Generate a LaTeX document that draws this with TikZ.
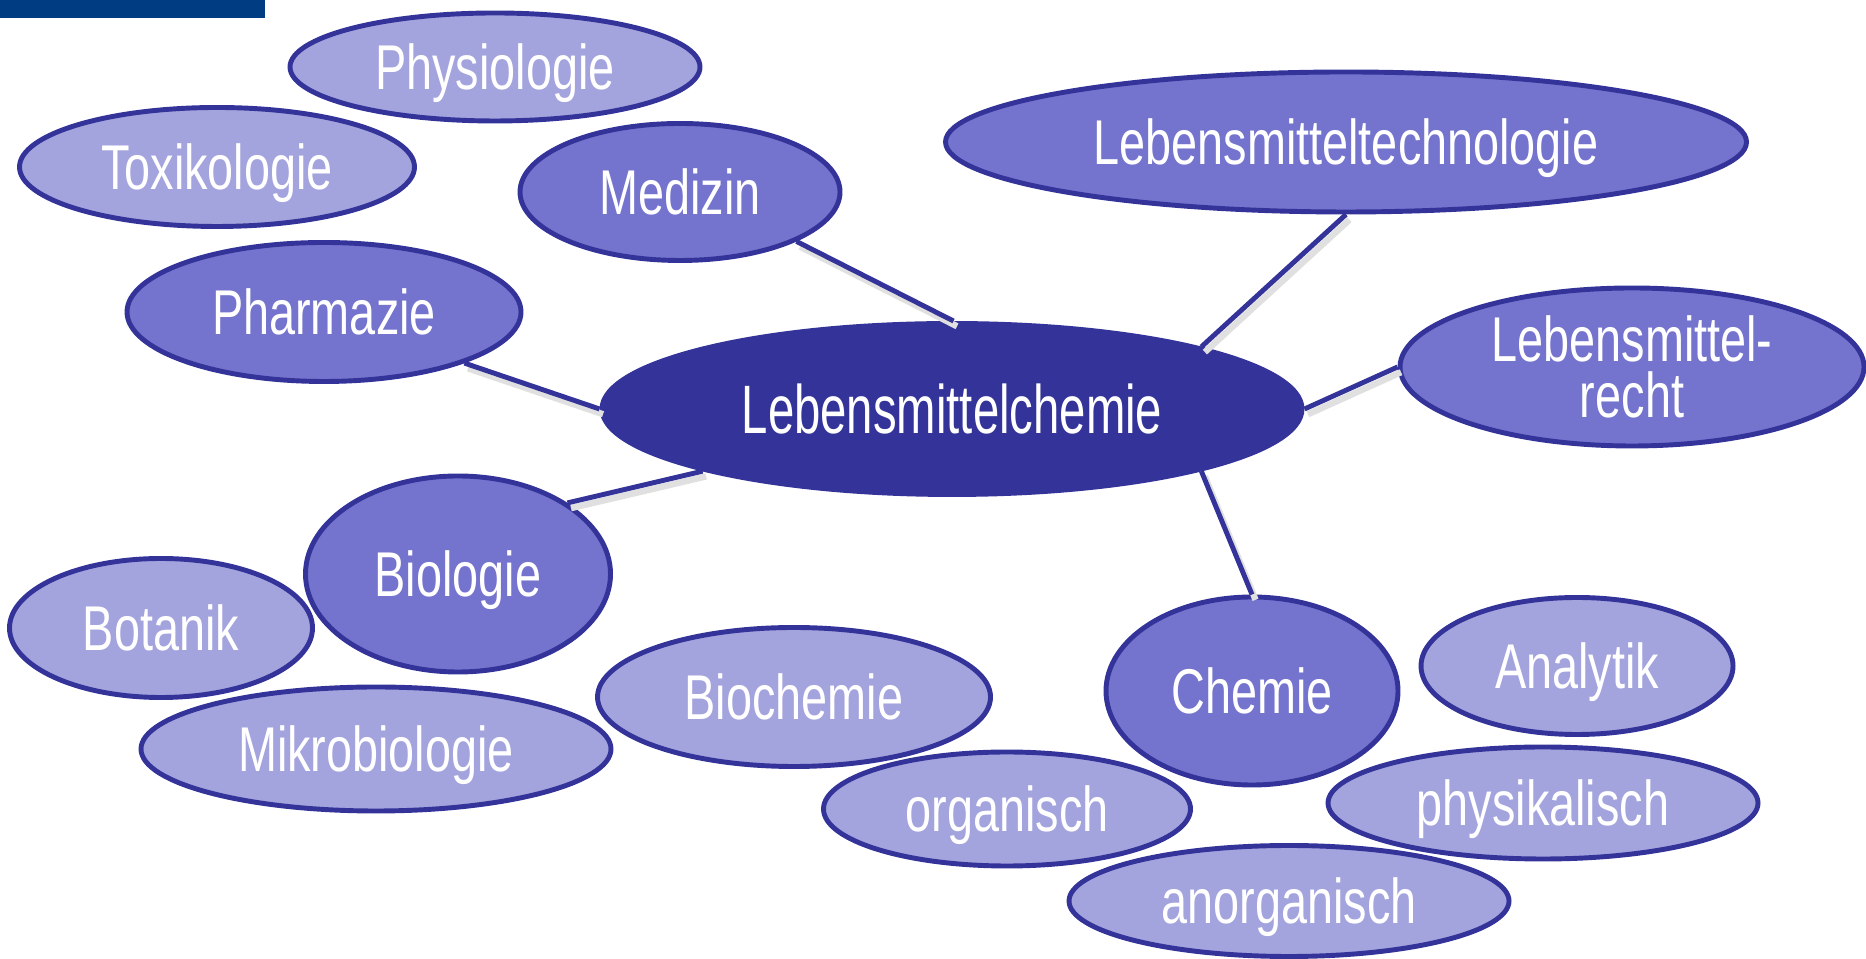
\documentclass[tikz,border=0pt]{standalone}
\usepackage{fontspec}
\setmainfont{Liberation Sans}[FakeStretch=0.74]
\newfontfamily\hubfont{Liberation Sans}[FakeStretch=0.69]
\usepackage{xcolor}
\usepackage{tikz}
\usetikzlibrary{shapes.geometric}
\definecolor{rimblue}{HTML}{333399}
\definecolor{midblue}{HTML}{7474CE}
\definecolor{paleblue}{HTML}{A3A3DE}
\definecolor{barblue}{HTML}{003C82}

\begin{document}
\begin{tikzpicture}[
  topic/.style={ellipse, draw=rimblue, line width=1.4pt, inner sep=0pt, text=white,
    font=\fontsize{18}{16}\selectfont, align=center},
  word/.style={text height=13pt, text depth=0pt},
  field/.style={topic, word, fill=midblue},
  branch/.style={topic, word, fill=paleblue},
  hub/.style={topic, fill=rimblue, font=\hubfont\fontsize{19.5}{20}\selectfont},
  link/.style={rimblue, line width=1.4pt,
    preaction={draw=black!12, line width=1.8pt, transform canvas={shift={(1pt,-1.5pt)}}}}
]
\useasboundingbox (0,0) rectangle (18.66,9.59);
\fill[barblue] (0,9.59) rectangle (2.65,9.41);

\node[branch, minimum width=4.10cm, minimum height=1.08cm] (phys) at (4.95,8.92) {Physiologie};
\node[branch, minimum width=3.95cm, minimum height=1.19cm] (tox) at (2.17,7.92) {Toxikologie};
\node[field, minimum width=3.20cm, minimum height=1.37cm] (med) at (6.80,7.67) {Medizin};
\node[field, minimum width=8.01cm, minimum height=1.40cm] (tech) at (13.46,8.17) {Lebensmitteltechnologie};
\node[field, minimum width=3.94cm, minimum height=1.39cm] (pharm) at (3.24,6.47) {Pharmazie};
\node[hub, minimum width=7.00cm, minimum height=1.71cm] (lmc) at (9.52,5.50) {Lebensmittelchemie};
\node[topic, fill=midblue, minimum width=4.64cm, minimum height=1.58cm] (recht) at (16.32,5.92) {Lebensmittel-\\recht};
\node[field, minimum width=3.05cm, minimum height=1.96cm] (bio) at (4.58,3.85) {Biologie};
\node[branch, minimum width=3.03cm, minimum height=1.39cm] (bot) at (1.61,3.31) {Botanik};
\node[branch, minimum width=4.70cm, minimum height=1.24cm] (mikro) at (3.76,2.10) {Mikrobiologie};
\node[branch, minimum width=3.93cm, minimum height=1.39cm] (bioch) at (7.94,2.62) {Biochemie};
\node[field, minimum width=2.92cm, minimum height=1.88cm] (chem) at (12.52,2.68) {Chemie};
\node[branch, minimum width=3.12cm, minimum height=1.37cm] (ana) at (15.77,2.93) {Analytik};
\node[branch, minimum width=3.67cm, minimum height=1.14cm] (org) at (10.07,1.50) {organisch};
\node[branch, minimum width=4.30cm, minimum height=1.12cm] (phy) at (15.43,1.56) {physikalisch};
\node[branch, minimum width=4.40cm, minimum height=1.11cm] (anorg) at (12.89,0.58) {anorganisch};

\draw[link] (med.-23) -- (lmc.89);
\draw[link] (tech.south) -- (lmc.14.5);
\draw[link] (pharm.-20) -- (lmc.west);
\draw[link] (recht.west) -- (lmc.east);
\draw[link] (bio.33) -- (lmc.194);
\draw[link] (lmc.-14) -- (chem.north);
\end{tikzpicture}
\end{document}
